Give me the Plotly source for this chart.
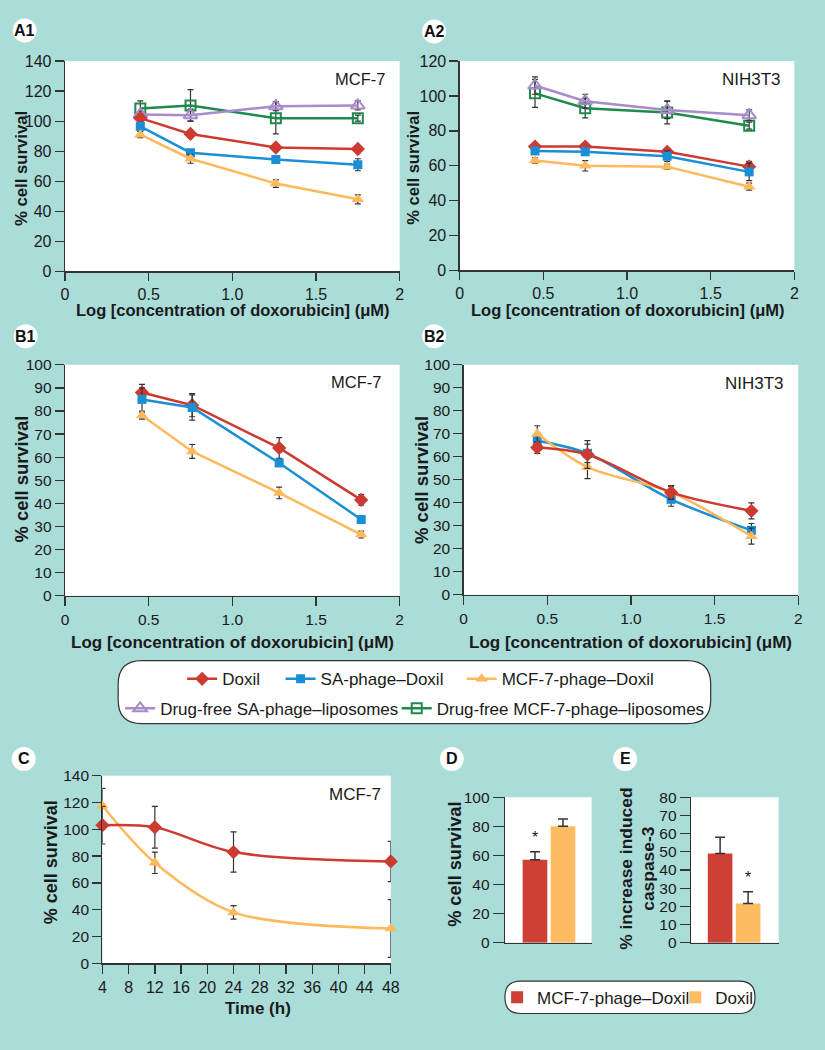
import plotly.graph_objects as go

W, H = 825, 1050


def px(x):
    return x / W


def py(y):
    return 1 - y / H


# ---------------- data ----------------
A1_x = [0.45, 0.75, 1.26, 1.75]
A1_doxil = [102, 91.5, 82.5, 81.5]
A1_doxil_err = [2, 2, 1.5, 1.5]
A1_sa = [96.5, 79, 74.5, 71]
A1_sa_err = [2, 2, 2, 4]
A1_mcf = [91, 75, 58.5, 48]
A1_mcf_err = [2, 3, 2.5, 3]
A1_sa_free = [104.5, 104, 110, 110.5]
A1_sa_free_err = [2, 4, 3, 3]
A1_mcf_free = [108.5, 110.5, 102, 102]
A1_mcf_free_err = [5, 10.5, 10.5, 2]

A2_x = [0.45, 0.75, 1.24, 1.73]
A2_doxil = [71, 71, 68, 59.5]
A2_doxil_err = [1.5, 1.5, 2, 3]
A2_sa = [68.5, 68, 65.5, 56.5]
A2_sa_err = [1.5, 1.5, 3, 5]
A2_mcf = [63, 60, 59.5, 48]
A2_mcf_err = [1.5, 3, 1.5, 2]
A2_sa_free = [106, 97, 92, 89]
A2_sa_free_err = [5, 4, 5, 3]
A2_mcf_free = [101.5, 93, 90.5, 83]
A2_mcf_free_err = [8, 5.5, 6.5, 2]

B1_x = [0.46, 0.76, 1.28, 1.77]
B1_doxil = [88, 82.5, 64, 41.5]
B1_doxil_err = [3.5, 5, 4.5, 2.3]
B1_sa = [85, 81.5, 57.5, 33]
B1_sa_err = [5, 5.5, 1.5, 1.5]
B1_mcf = [78, 62.5, 44.5, 26.5]
B1_mcf_err = [1.5, 3, 2.5, 1.5]

B2_x = [0.44, 0.74, 1.24, 1.72]
B2_doxil = [64, 61, 44.5, 36.5]
B2_doxil_err = [2.5, 6, 2.5, 3.5]
B2_sa = [67, 61.5, 41.5, 28]
B2_sa_err = [2, 4, 3, 3]
B2_mcf = [70, 55.5, 44.5, 25.5]
B2_mcf_err = [3.5, 5, 3, 3.5]

C_x = [4, 12, 24, 48]
C_doxil = [103, 101.5, 83, 76]
C_doxil_err = [14, 15.5, 15, 15]
C_mcf = [117.5, 75, 38, 26]
C_mcf_err = [13, 8, 5, 21.5]

BAR_groups = ["MCF-7-phage–Doxil", "Doxil"]
D_vals = [57, 80]
D_err = [5.5, 5]
E_vals = [49, 21.5]
E_err = [9, 6.5]

LOG_TICKS = [0, 0.5, 1, 1.5, 2]
LOG_TICKTEXT = ["0", "0.5", "1.0", "1.5", "2"]
TIME_TICKS = [4, 8, 12, 16, 20, 24, 28, 32, 36, 40, 44, 48]

# ---------------- style ----------------
BG = "#aadcd8"
AX = "#333333"
TXT = "#1a1a1a"
FONT = "Liberation Sans, Arial, Helvetica, sans-serif"
RED = "#cc3b32"
BLUE = "#1b8fd6"
ORANGE = "#fdb95c"
PURPLE = "#a88bc8"
GREEN = "#1e8a4c"
BAR_RED = "#cc4036"
BAR_ORANGE = "#fdbc62"

STY = {
    "doxil": dict(name="Doxil", color=RED, symbol="diamond", size=11, legend="legend"),
    "sa": dict(name="SA-phage–Doxil", color=BLUE, symbol="square", size=9, legend="legend2"),
    "mcf": dict(name="MCF-7-phage–Doxil", color=ORANGE, symbol="triangle-up", size=11, legend="legend3"),
    "sa_free": dict(name="Drug-free SA-phage–liposomes", color=PURPLE, symbol="triangle-up-open", size=12, legend="legend4"),
    "mcf_free": dict(name="Drug-free MCF-7-phage–liposomes", color=GREEN, symbol="square-open", size=10, legend="legend5"),
}

fig = go.Figure()


def add_line(xs, ys, err, key, xa, ya, showlegend=False, shape="linear"):
    st = STY[key]
    is_open = st["symbol"].endswith("open")
    fig.add_trace(go.Scatter(
        x=xs, y=ys, mode="lines+markers", name=st["name"],
        line=dict(color=st["color"], width=2.5, shape=shape, smoothing=0.9),
        marker=dict(symbol=st["symbol"], size=st["size"], color=st["color"],
                    line=dict(color=st["color"], width=2 if is_open else 0)),
        error_y=dict(type="data", array=err, color=AX, thickness=1.2, width=3),
        xaxis=xa, yaxis=ya, showlegend=showlegend, legend=st["legend"],
        cliponaxis=False,
    ))


# A1
add_line(A1_x, A1_mcf_free, A1_mcf_free_err, "mcf_free", "x", "y", True)
add_line(A1_x, A1_sa_free, A1_sa_free_err, "sa_free", "x", "y", True)
add_line(A1_x, A1_doxil, A1_doxil_err, "doxil", "x", "y", True)
add_line(A1_x, A1_sa, A1_sa_err, "sa", "x", "y", True)
add_line(A1_x, A1_mcf, A1_mcf_err, "mcf", "x", "y", True)
# A2
add_line(A2_x, A2_mcf_free, A2_mcf_free_err, "mcf_free", "x2", "y2")
add_line(A2_x, A2_sa_free, A2_sa_free_err, "sa_free", "x2", "y2")
add_line(A2_x, A2_doxil, A2_doxil_err, "doxil", "x2", "y2")
add_line(A2_x, A2_sa, A2_sa_err, "sa", "x2", "y2")
add_line(A2_x, A2_mcf, A2_mcf_err, "mcf", "x2", "y2")
# B1
add_line(B1_x, B1_doxil, B1_doxil_err, "doxil", "x3", "y3")
add_line(B1_x, B1_sa, B1_sa_err, "sa", "x3", "y3")
add_line(B1_x, B1_mcf, B1_mcf_err, "mcf", "x3", "y3")
# B2
add_line(B2_x, B2_sa, B2_sa_err, "sa", "x4", "y4", shape="spline")
add_line(B2_x, B2_mcf, B2_mcf_err, "mcf", "x4", "y4", shape="spline")
add_line(B2_x, B2_doxil, B2_doxil_err, "doxil", "x4", "y4", shape="spline")
# C
add_line(C_x, C_mcf, C_mcf_err, "mcf", "x5", "y5", shape="spline")
add_line(C_x, C_doxil, C_doxil_err, "doxil", "x5", "y5", shape="spline")

# D and E bars
for i, (col, leg) in enumerate([(BAR_RED, "legend6"), (BAR_ORANGE, "legend7")]):
    fig.add_trace(go.Bar(
        x=[BAR_groups[i]], y=[D_vals[i]], width=0.88, marker=dict(color=col, line=dict(width=0)),
        error_y=dict(type="data", array=[D_err[i]], arrayminus=[0], symmetric=False,
                     color=AX, thickness=1.5, width=5),
        xaxis="x6", yaxis="y6", name=BAR_groups[i], showlegend=True, legend=leg,
    ))
    fig.add_trace(go.Bar(
        x=[BAR_groups[i]], y=[E_vals[i]], width=0.88, marker=dict(color=col, line=dict(width=0)),
        error_y=dict(type="data", array=[E_err[i]], arrayminus=[0], symmetric=False,
                     color=AX, thickness=1.5, width=5),
        xaxis="x7", yaxis="y7", name=BAR_groups[i], showlegend=False,
    ))


def axcommon(fs=16, **kw):
    d = dict(showline=True, linecolor=AX, linewidth=1.3, ticks="outside", ticklen=9,
             tickwidth=1.3, tickcolor=AX, showgrid=False, zeroline=False,
             tickfont=dict(family=FONT, size=fs, color=TXT), fixedrange=True)
    d.update(kw)
    return d


def logx(x0, x1, anchor, fs, tl=9):
    return axcommon(fs, domain=[px(x0), px(x1)], anchor=anchor, range=[0, 2],
                    tickvals=LOG_TICKS, ticktext=LOG_TICKTEXT, ticklen=tl)


def yax(y0, y1, anchor, rmax, dtick, fs):
    return axcommon(fs, domain=[py(y1), py(y0)], anchor=anchor, range=[0, rmax], dtick=dtick,
                    tick0=0)


layout = dict(
    width=W, height=H, autosize=False,
    margin=dict(l=0, r=0, t=0, b=0),
    paper_bgcolor=BG, plot_bgcolor="white",
    font=dict(family=FONT, size=16, color=TXT),
    barmode="overlay",
    xaxis=logx(62, 402, "y", 16, 8),
    yaxis=yax(53, 267, "x", 140, 20, 16),
    xaxis2=logx(463, 803, "y2", 16, 8),
    yaxis2=yax(53, 266, "x2", 120, 20, 16),
    xaxis3=logx(62, 402, "y3", 15.5),
    yaxis3=yax(362, 597, "x3", 100, 10, 15.5),
    xaxis4=logx(467, 807, "y4", 15.5),
    yaxis4=yax(362, 596, "x4", 100, 10, 15.5),
    xaxis5=axcommon(16, domain=[px(100), px(393)], anchor="y5", range=[4, 48], tickvals=TIME_TICKS),
    yaxis5=yax(780, 971, "x5", 140, 20, 15.5),
    xaxis6=axcommon(15, domain=[px(509), px(597)], anchor="y6", range=[-1.07, 2.02], type="category",
                    ticks="", showticklabels=False, categoryorder="array", categoryarray=BAR_groups),
    yaxis6=yax(802, 950, "x6", 100, 20, 15.5),
    xaxis7=axcommon(15, domain=[px(698), px(787)], anchor="y7", range=[-1.04, 2.09], type="category",
                    ticks="", showticklabels=False, categoryorder="array", categoryarray=BAR_groups),
    yaxis7=yax(802, 950, "x7", 80, 10, 15.5),
)
layout["yaxis6"]["ticklen"] = 11
layout["yaxis7"]["ticklen"] = 10


def leg(cx, cy):
    return dict(x=px(cx - 21), y=py(cy), xanchor="left", yanchor="middle",
                orientation="h", bgcolor="rgba(0,0,0,0)", borderwidth=0,
                font=dict(family=FONT, size=17, color=TXT), itemclick=False, itemdoubleclick=False)


layout["legend"] = leg(202, 682)
layout["legend2"] = leg(302, 682)
layout["legend3"] = leg(486, 682)
layout["legend4"] = leg(139, 712)
layout["legend5"] = leg(420, 712)
layout["legend6"] = leg(522, 1006)
layout["legend7"] = leg(703, 1006)

fig.update_layout(**layout)


def rrect(x0, y0, x1, y1, r):
    return (f"M {px(x0 + r)},{py(y0)} L {px(x1 - r)},{py(y0)} "
            f"Q {px(x1)},{py(y0)} {px(x1)},{py(y0 + r)} L {px(x1)},{py(y1 - r)} "
            f"Q {px(x1)},{py(y1)} {px(x1 - r)},{py(y1)} L {px(x0 + r)},{py(y1)} "
            f"Q {px(x0)},{py(y1)} {px(x0)},{py(y1 - r)} L {px(x0)},{py(y0 + r)} "
            f"Q {px(x0)},{py(y0)} {px(x0 + r)},{py(y0)} Z")


shapes = [
    dict(type="path", xref="paper", yref="paper", path=rrect(116, 663, 718, 727, 24),
         fillcolor="white", line=dict(color=AX, width=1.2), layer="below"),
    dict(type="path", xref="paper", yref="paper", path=rrect(509, 989, 763, 1022, 16),
         fillcolor="white", line=dict(color=AX, width=1.2), layer="below"),
]

annotations = []
labels = [("A1", 21, 22), ("A2", 437, 23), ("B1", 22, 333), ("B2", 437, 333),
          ("C", 20, 763), ("D", 455, 763), ("E", 631, 763)]
for lab, cx, cy in labels:
    shapes.append(dict(type="circle", xref="paper", yref="paper", xsizemode="pixel", ysizemode="pixel",
                       xanchor=px(cx), yanchor=py(cy), x0=-12, x1=12, y0=-12, y1=12,
                       fillcolor="white", line=dict(width=0), layer="above"))
    annotations.append(dict(text=lab, xref="paper", yref="paper", x=px(cx), y=py(cy),
                            xanchor="center", yanchor="middle", showarrow=False,
                            font=dict(family=FONT, size=16, color="#111", weight="bold")))

# cell line labels
for t, rx, cy, fs in [("MCF-7", 389, 71, 16.5), ("NIH3T3", 791, 72, 17), ("MCF-7", 385, 380, 16.5),
                      ("NIH3T3", 795, 381, 17), ("MCF-7", 385, 799, 17)]:
    annotations.append(dict(text=t, xref="paper", yref="paper", x=px(rx), y=py(cy),
                            xanchor="right", yanchor="middle", showarrow=False,
                            font=dict(family=FONT, size=fs, color=TXT)))

# axis titles
XT = "Log [concentration of doxorubicin] (μM)"


def bold(s):
    return dict(family=FONT, size=s, color=TXT, weight="bold")


for t, cx, cy, ang, fs in [(XT, 232, 306, 0, 16.5), (XT, 633, 306, 0, 16.5),
                           (XT, 232, 645, 0, 17), (XT, 637, 645, 0, 17),
                           ("Time (h)", 258, 1017, 0, 17),
                           ("% cell survival", 17, 162, -90, 16.7), ("% cell survival", 416, 161, -90, 16.5),
                           ("% cell survival", 18, 478, -90, 18.4), ("% cell survival", 424, 479, -90, 18.6),
                           ("% cell survival", 48, 868, -90, 18), ("% cell survival", 458, 870, -90, 18.2),
                           ("% increase induced<br>caspase-3", 643, 875, -90, 17.4)]:
    annotations.append(dict(text=t, xref="paper", yref="paper", x=px(cx), y=py(cy),
                            xanchor="center", yanchor="middle", showarrow=False, textangle=ang,
                            font=bold(fs)))

# significance asterisks
annotations.append(dict(text="*", xref="x6", yref="y6", x=BAR_groups[0], y=D_vals[0] + D_err[0],
                        yshift=4, yanchor="bottom", showarrow=False,
                        font=dict(family=FONT, size=16, color=TXT)))
annotations.append(dict(text="*", xref="x7", yref="y7", x=BAR_groups[1], y=E_vals[1] + E_err[1],
                        yshift=4, yanchor="bottom", showarrow=False,
                        font=dict(family=FONT, size=16, color=TXT)))

fig.update_layout(shapes=shapes, annotations=annotations)

fig.write_html("out.html", config={"displayModeBar": False, "staticPlot": True},
               post_script="document.documentElement.style.margin='0';document.body.style.margin='0';"
                           "document.body.style.padding='0';document.body.style.overflow='hidden';")
